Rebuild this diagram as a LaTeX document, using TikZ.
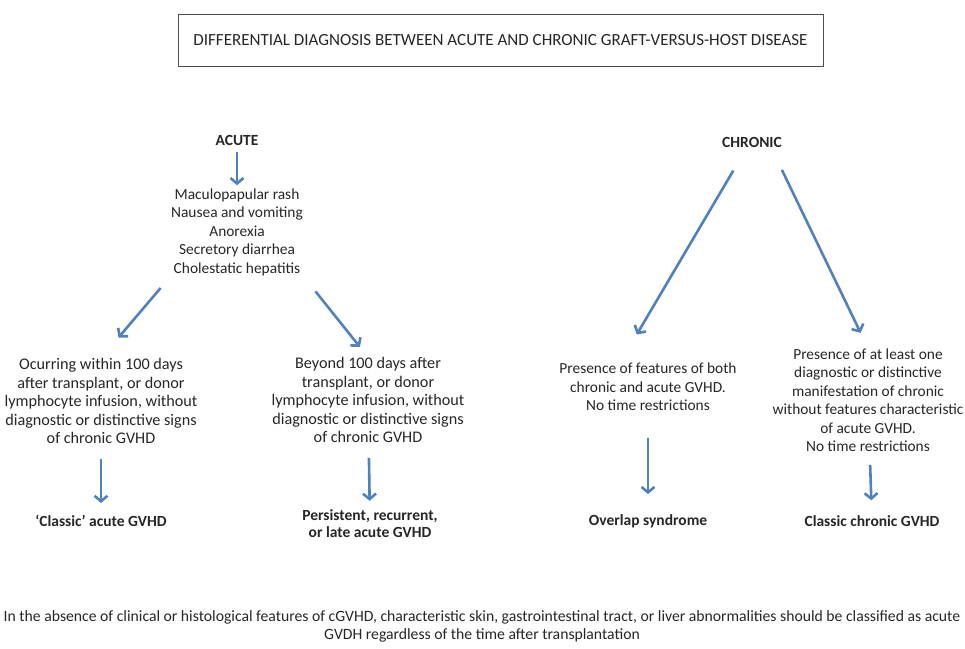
\documentclass[tikz,border=0pt]{standalone}
\usepackage{fontspec}
\setmainfont{Carlito}
\usetikzlibrary{arrows.meta,positioning}
\definecolor{flowblue}{RGB}{79,129,189}

\begin{document}
\begin{tikzpicture}[x=1pt,y=-1pt,
  every node/.style={align=center,text=black!85,inner sep=0pt},
  txt/.style={font=\fontsize{15.4}{18.5}\selectfont},
  wide/.style={font=\fontsize{16.2}{18.5}\selectfont},
  hd/.style={font=\fontsize{15.5}{17}\selectfont\bfseries},
  res/.style={font=\fontsize{15.5}{17}\selectfont\bfseries},
  flow/.style={draw=flowblue,line width=2.6pt,-{Straight Barb[length=5.5pt,width=13pt]}}]

\useasboundingbox (0,0) rectangle (965,648);

%%%%%%%%%%%%%%%%%%%%%% TITLE

\node[draw=black!70,line width=0.8pt,minimum width=645pt,minimum height=52pt,font=\fontsize{17}{20}\selectfont] (title) at (500.5,40) {DIFFERENTIAL DIAGNOSIS BETWEEN ACUTE AND CHRONIC GRAFT-VERSUS-HOST DISEASE};

%%%%%%%%%%%%%%%%%%%%%% ACUTE

\node[hd] (acute) at (237,140) {ACUTE};
\node[txt] (sym) at (237,232) {Maculopapular rash\\Nausea and vomiting\\Anorexia\\Secretory diarrhea\\Cholestatic hepatitis};
\draw[flow,shorten <=7pt,shorten >=3pt] (acute) -- (sym);

\node[wide] (occ) at (101,401) {Ocurring within 100 days\\after transplant, or donor\\lymphocyte infusion, without\\diagnostic or distinctive signs\\of chronic GVHD};
\node[wide] (late) at (368,400) {Beyond 100 days after\\transplant, or donor\\lymphocyte infusion, without\\diagnostic or distinctive signs\\of chronic GVHD};
\draw[flow,shorten <=16pt,shorten >=27pt] (sym.south west) -- (occ.north);
\draw[flow,shorten <=20pt,shorten >=13pt] (sym.south east) -- (late.north);

\node[res] (classic) at (101,521) {‘Classic’ acute GVHD};
\node[res] (persist) at (370,524) {Persistent, recurrent,\\or late acute GVHD};
\draw[flow,shorten <=15pt,shorten >=12pt] (occ) -- (classic);
\draw[flow,shorten <=15pt,shorten >=9pt] (late) -- (persist);

%%%%%%%%%%%%%%%%%%%%%% CHRONIC

\node[hd] (chronic) at (752,142) {CHRONIC};
\node[txt] (both) at (648,387) {Presence of features of both\\chronic and acute GVHD.\\No time restrictions};
\node[txt] (atleast) at (868,400) {Presence of at least one\\diagnostic or distinctive\\manifestation of chronic\\without features characteristic\\of acute GVHD.\\No time restrictions};
\draw[flow,shorten <=27pt,shorten >=33pt] ([xshift=-5pt]chronic.south) -- ([xshift=-28pt]both.north);
\draw[flow,shorten <=25pt,shorten >=17pt] ([xshift=19pt]chronic.south) -- (atleast.north);

\node[res] (overlap) at (648,521) {Overlap syndrome};
\node[res] (clchron) at (872,521) {Classic chronic GVHD};
\draw[flow,shorten <=27pt,shorten >=20pt] (both) -- (overlap);
\draw[flow,shorten <=13pt,shorten >=15pt] (atleast) -- (clchron);

%%%%%%%%%%%%%%%%%%%%%% NOTE

\node[font=\fontsize{15.7}{18}\selectfont] (note) at (482,626) {In the absence of clinical or histological features of cGVHD, characteristic skin, gastrointestinal tract, or liver abnormalities should be classified as acute\\GVDH regardless of the time after transplantation};

\end{tikzpicture}
\end{document}
